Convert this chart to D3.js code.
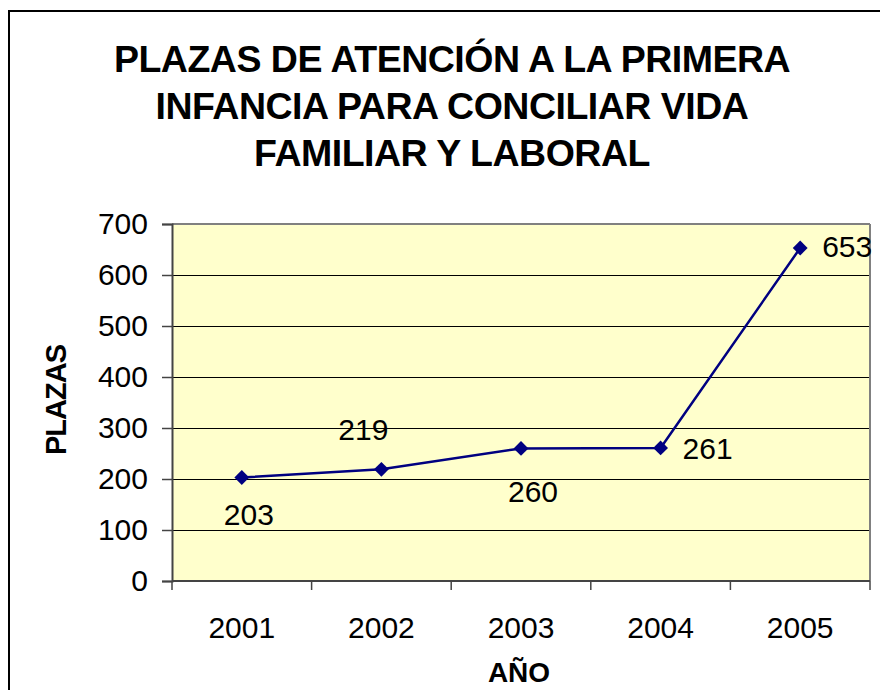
<!DOCTYPE html>
<html>
<head>
<meta charset="utf-8">
<script src="https://cdn.jsdelivr.net/npm/d3@7"></script>
<style>
  body { margin: 0; background: #fff; }
  text { font-family: Arial, "Liberation Sans", sans-serif; }
</style>
</head>
<body>
<script>
// chart data
const years = ["2001", "2002", "2003", "2004", "2005"];
const plazas = [203, 219, 260, 261, 653];
const yTicks = [0, 100, 200, 300, 400, 500, 600, 700];
const titleLines = ["PLAZAS DE ATENCIÓN A LA PRIMERA", "INFANCIA PARA CONCILIAR VIDA", "FAMILIAR Y LABORAL"];

// hand-placed data labels (like in the original spreadsheet)
const labelPos = [
  { dx: 7, dy: 48, anchor: "middle" },
  { dx: -18, dy: -29, anchor: "middle" },
  { dx: 12, dy: 54, anchor: "middle" },
  { dx: 22, dy: 11, anchor: "start" },
  { dx: 22, dy: 9, anchor: "start" }
];

let margin = { top: 224, left: 172, bottom: 109, right: 10 };
let width = 880 - margin.left - margin.right,
  height = 690 - margin.top - margin.bottom;

let svg = d3.select("body").append("svg")
  .attr("width", 880)
  .attr("height", 690);

let x, y;

drawFrame();
drawTitle();
setupScales();
drawPlotArea();
drawAxes();
drawLine();

function drawFrame() {
  svg.append("rect")
    .attr("x", 9).attr("y", 11)
    .attr("width", 900).attr("height", 720)
    .attr("fill", "#fff")
    .attr("stroke", "#000")
    .attr("stroke-width", 2);
}

function drawTitle() {
  svg.append("g").selectAll("text")
    .data(titleLines)
    .enter().append("text")
    .attr("x", 452)
    .attr("y", (d, i) => 72 + i * 47)
    .attr("text-anchor", "middle")
    .style("font-size", "37.5px")
    .style("font-weight", "bold")
    .style("letter-spacing", "-0.5px")
    .text(d => d);
}

function setupScales() {
  x = d3.scaleBand().domain(years).range([0, width]);
  y = d3.scaleLinear().domain([0, 700]).range([height, 0]);
}

function drawPlotArea() {
  let g = svg.append("g").attr("transform", `translate(${margin.left}, ${margin.top})`);
  g.append("rect")
    .attr("width", width).attr("height", height)
    .attr("fill", "#FFFFCC");

  // gridlines
  g.selectAll(".grid")
    .data(yTicks.filter(d => d > 0 && d < 700))
    .enter().append("line")
    .attr("x1", 0).attr("x2", width)
    .attr("y1", d => Math.round(y(d)) + 0.5)
    .attr("y2", d => Math.round(y(d)) + 0.5)
    .attr("stroke", "#000")
    .attr("stroke-width", 1);

  // border
  g.append("line").attr("x1", 0).attr("x2", width).attr("y1", 0).attr("y2", 0)
    .attr("stroke", "#808080").attr("stroke-width", 2);
  g.append("line").attr("x1", width).attr("x2", width).attr("y1", 0).attr("y2", height)
    .attr("stroke", "#808080").attr("stroke-width", 2);
}

function drawAxes() {
  let yAxis = svg.append("g")
    .attr("transform", `translate(${margin.left}, ${margin.top})`)
    .call(d3.axisLeft(y).tickValues(yTicks).tickSize(10).tickPadding(14));
  yAxis.select(".domain").attr("stroke", "#444").attr("stroke-width", 2);
  yAxis.selectAll(".tick line").attr("stroke", "#444").attr("stroke-width", 1.5);
  yAxis.selectAll("text")
    .style("font-size", "30px")
    .style("font-family", "Arial, 'Liberation Sans', sans-serif")
    .attr("fill", "#000");

  let xg = svg.append("g")
    .attr("transform", `translate(${margin.left}, ${margin.top + height})`);
  xg.append("line").attr("x1", 0).attr("x2", width)
    .attr("stroke", "#444").attr("stroke-width", 2);
  // ticks between categories
  let bounds = years.map(d => x(d)).concat([width]);
  xg.selectAll(".xtick")
    .data(bounds)
    .enter().append("line")
    .attr("x1", d => d).attr("x2", d => d)
    .attr("y1", 0).attr("y2", 9)
    .attr("stroke", "#444").attr("stroke-width", 1.5);
  xg.selectAll(".xlabel")
    .data(years)
    .enter().append("text")
    .attr("x", d => x(d) + x.bandwidth() / 2)
    .attr("y", 57)
    .attr("text-anchor", "middle")
    .style("font-size", "30px")
    .text(d => d);

  // axis titles
  svg.append("text")
    .attr("transform", "translate(66, 400) rotate(-90)")
    .attr("text-anchor", "middle")
    .style("font-size", "29px")
    .style("font-weight", "bold")
    .style("letter-spacing", "-1px")
    .text("PLAZAS");
  svg.append("text")
    .attr("x", 519).attr("y", 682)
    .attr("text-anchor", "middle")
    .style("font-size", "28px")
    .style("font-weight", "bold")
    .text("AÑO");
}

function drawLine() {
  let g = svg.append("g").attr("transform", `translate(${margin.left}, ${margin.top})`);
  let pts = years.map((d, i) => ({ year: d, value: plazas[i] }));
  let cx = d => x(d.year) + x.bandwidth() / 2;

  let valueline = d3.line()
    .x(cx)
    .y(d => y(d.value));

  g.append("path")
    .data([pts])
    .attr("d", valueline)
    .attr("fill", "none")
    .attr("stroke", "#000080")
    .attr("stroke-width", 2.5);

  g.selectAll(".dot")
    .data(pts)
    .enter().append("path")
    .attr("d", d3.symbol().type(d3.symbolDiamond2).size(140))
    .attr("transform", d => `translate(${cx(d)}, ${y(d.value)})`)
    .attr("fill", "#000080");

  g.selectAll(".lbl")
    .data(pts)
    .enter().append("text")
    .attr("x", (d, i) => cx(d) + labelPos[i].dx)
    .attr("y", (d, i) => y(d.value) + labelPos[i].dy)
    .attr("text-anchor", (d, i) => labelPos[i].anchor)
    .style("font-size", "30px")
    .text(d => d.value);
}
</script>
</body>
</html>
